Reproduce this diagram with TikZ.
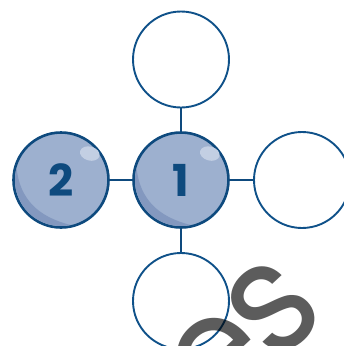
\documentclass[tikz,border=0pt]{standalone}
\usepackage{fontspec}
\setmainfont{Poppins}
\definecolor{navy}{HTML}{0E4A7E}
\definecolor{ballfill}{HTML}{9DB0CF}
\definecolor{ballshade}{HTML}{8398BF}
\definecolor{ballhi}{HTML}{C3CFE3}
\definecolor{ringcol}{HTML}{0F5189}
\definecolor{wmgray}{HTML}{5C5C5C}
\tikzset{
  ball/.style={circle, draw=navy, line width=2.6pt, fill=ballfill, minimum size=95pt, inner sep=0pt},
  numtext/.style={text=navy, font=\bfseries\fontsize{44}{44}\selectfont},
  ring/.style={circle, draw=ringcol, line width=1.9pt, fill=white, minimum size=96pt, inner sep=0pt},
  link/.style={draw=navy, line width=2.4pt},
  wmark/.style={text=black, text opacity=0.64, font=\fontsize{142}{142}\selectfont, inner sep=0pt, rotate=43, yscale=1.12}
}
\newcommand\ballgloss[1]{%
  \begin{scope}[shift={(#1)}]
    \fill[ballshade] (195:46) arc[start angle=195, end angle=78, radius=46]
      .. controls (-22,37) and (-41,20) .. (195:46);
    \fill[ballhi, rotate=-15] (21,-33) ellipse[x radius=10, y radius=7];
  \end{scope}}
\begin{document}
\begin{tikzpicture}[x=1pt, y=-1pt]
\useasboundingbox (0,0) rectangle (344,346);
\begin{scope}
\clip (0,0) rectangle (344,346);
\coordinate (c1) at (181,180);
\coordinate (c2) at (61,180);
\path[link] (181,59.5) -- (c1) -- (181,301);
\path[link] (c2) -- (302,180);
\node[ring] (top) at (181,59.5) {};
\node[ring] (right) at (302,180) {};
\node[ring] (bottom) at (181,301) {};
\node[ball] (one) at (c1) {};
\node[ball] (two) at (c2) {};
\ballgloss{c1}
\ballgloss{c2}
\node[numtext] (lone) at (c1) {1};
\node[numtext] (ltwo) at (c2) {2};
\node[wmark] (wme) at (220,362) {e};
\node[wmark] (wms) at (273,308) {s};
\end{scope}
\end{tikzpicture}
\end{document}
